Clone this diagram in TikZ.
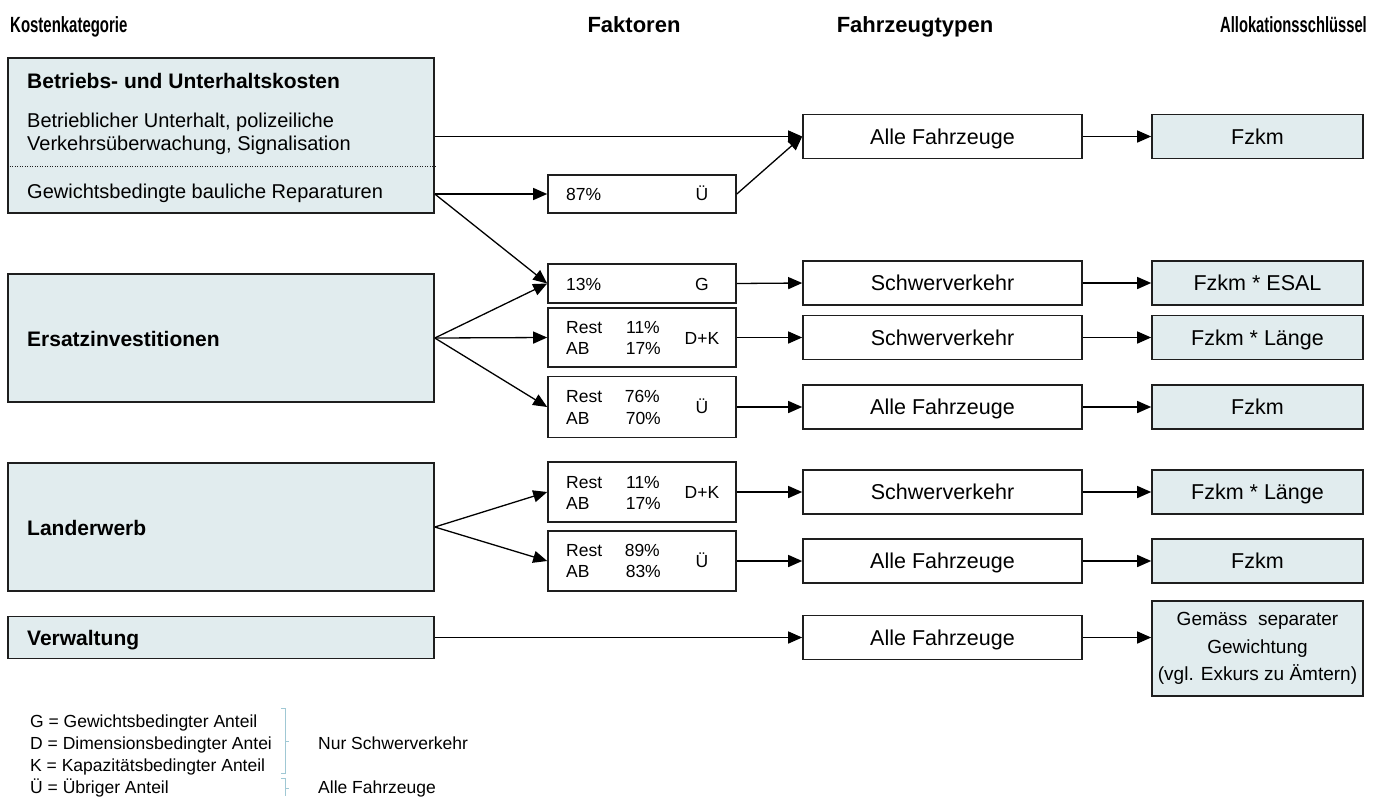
\documentclass[tikz,border=0pt]{standalone}
\usepackage{graphicx}
\usepackage{fontspec}
\setmainfont{Liberation Sans}
\usetikzlibrary{arrows.meta}
\definecolor{boxfill}{RGB}{225,236,238}
\definecolor{boxline}{RGB}{30,30,30}
\definecolor{brackcol}{RGB}{160,200,212}
\tikzset{
  catbox/.style={draw=boxline, line width=1.6pt, fill=boxfill, inner sep=0pt, minimum width=426pt},
  facbox/.style={draw=boxline, line width=1.6pt, fill=white, inner sep=0pt, minimum width=188pt},
  vehbox/.style={draw=boxline, line width=1.6pt, fill=white, inner sep=0pt, minimum width=279pt, minimum height=44pt,
     font=\fontsize{21.5}{25}\selectfont, text height=15.5pt, text depth=0pt},
  allocbox/.style={draw=boxline, line width=1.6pt, fill=boxfill, inner sep=0pt, minimum width=211pt, minimum height=44pt,
     font=\fontsize{21.5}{25}\selectfont, text height=15.5pt, text depth=0pt},
  hdrtext/.style={font=\fontsize{22}{26}\selectfont\bfseries, inner sep=0pt},
  cathead/.style={font=\fontsize{21}{25}\selectfont\bfseries, inner sep=0pt, anchor=base west},
  cattext/.style={font=\fontsize{20}{24}\selectfont, inner sep=0pt, anchor=base west},
  factext/.style={font=\fontsize{17.5}{21}\selectfont, inner sep=0pt},
  legtext/.style={font=\fontsize{17.5}{21}\selectfont, inner sep=0pt, anchor=base west},
  conn/.style={line width=1.3pt, draw=black, -{Triangle[length=14pt,width=12pt]}},
  brack/.style={draw=brackcol, line width=1pt},
}
\begin{document}
\begin{tikzpicture}[x=1pt,y=-1pt]
\useasboundingbox (0,0) rectangle (1379,796);

% headers
\node[hdrtext, anchor=base west] (h1) at (10,32) {\scalebox{0.68}[1]{Kostenkategorie}};
\node[hdrtext, anchor=base] (h2) at (634,32) {Faktoren};
\node[hdrtext, anchor=base] (h3) at (915,32) {Fahrzeugtypen};
\node[hdrtext, anchor=base east] (h4) at (1367,32) {\scalebox{0.67}[1]{Allokationsschlüssel}};

% cost category boxes
\node[catbox, minimum height=155pt] (b1) at (221,135.5) {};
\node[catbox, minimum height=128pt] (b2) at (221,338) {};
\node[catbox, minimum height=128pt] (b3) at (221,527) {};
\node[catbox, minimum height=42pt] (b4) at (221,637.5) {};

\draw[boxline, line width=1pt, dash pattern=on 1pt off 1.5pt] (b1.west |- 0,166) coordinate (dl) -- (dl -| b1.east);

\node[cathead] (t1) at (27,88) {Betriebs- und Unterhaltskosten};
\node[cattext] (t2) at (27,127) {Betrieblicher Unterhalt, polizeiliche};
\node[cattext] (t3) at (27,150) {Verkehrsüberwachung, Signalisation};
\node[cattext] (t4) at (27,198) {Gewichtsbedingte bauliche Reparaturen};
\node[cathead] (t5) at (27,346) {Ersatzinvestitionen};
\node[cathead] (t6) at (27,535) {Landerwerb};
\node[cathead] (t7) at (27,645) {Verwaltung};

% factor boxes
\node[facbox, minimum height=38pt] (f87) at (642,194) {};
\node[facbox, minimum height=39pt] (f13) at (642,283.5) {};
\node[facbox, minimum height=59pt] (fdk1) at (642,337.5) {};
\node[facbox, minimum height=61pt] (f76) at (642,407) {};
\node[facbox, minimum height=60pt] (fdk2) at (642,492) {};
\node[facbox, minimum height=60pt] (f89) at (642,561) {};

\node[factext, anchor=base west] (p87) at (566,200.5) {87\%};
\node[factext, anchor=base] (u87) at (702,200.5) {Ü};
\node[factext, anchor=base west] (p13) at (566,290) {13\%};
\node[factext, anchor=base] (g13) at (702,290) {G};

\node[factext, anchor=base west] (r1) at (566,333) {Rest};
\node[factext, anchor=base east] (r1p) at (660,333) {11\%};
\node[factext, anchor=base west] (a1t) at (566,354.5) {AB};
\node[factext, anchor=base east] (a1p) at (661,354.5) {17\%};
\node[factext, anchor=base] (dk1) at (702,344) {D+K};

\node[factext, anchor=base west] (r2) at (566,402.5) {Rest};
\node[factext, anchor=base east] (r2p) at (660,402.5) {76\%};
\node[factext, anchor=base west] (a2t) at (566,424) {AB};
\node[factext, anchor=base east] (a2p) at (661,424) {70\%};
\node[factext, anchor=base] (u76) at (702,413.5) {Ü};

\node[factext, anchor=base west] (r3) at (566,488) {Rest};
\node[factext, anchor=base east] (r3p) at (660,488) {11\%};
\node[factext, anchor=base west] (a3t) at (566,509.5) {AB};
\node[factext, anchor=base east] (a3p) at (661,509.5) {17\%};
\node[factext, anchor=base] (dk2) at (702,498.5) {D+K};

\node[factext, anchor=base west] (r4) at (566,556) {Rest};
\node[factext, anchor=base east] (r4p) at (660,556) {89\%};
\node[factext, anchor=base west] (a4t) at (566,577.5) {AB};
\node[factext, anchor=base east] (a4p) at (661,577.5) {83\%};
\node[factext, anchor=base] (u89) at (702,567.5) {Ü};

% vehicle type boxes
\node[vehbox] (v1) at (942.5,136.5) {Alle Fahrzeuge};
\node[vehbox] (v2) at (942.5,283) {Schwerverkehr};
\node[vehbox] (v3) at (942.5,337.5) {Schwerverkehr};
\node[vehbox] (v4) at (942.5,407) {Alle Fahrzeuge};
\node[vehbox] (v5) at (942.5,492) {Schwerverkehr};
\node[vehbox] (v6) at (942.5,561) {Alle Fahrzeuge};
\node[vehbox] (v7) at (942.5,637.5) {Alle Fahrzeuge};

% allocation boxes
\node[allocbox] (k1) at (1257.5,136.5) {Fzkm};
\node[allocbox] (k2) at (1257.5,283) {Fzkm * ESAL};
\node[allocbox] (k3) at (1257.5,337.5) {Fzkm * Länge};
\node[allocbox] (k4) at (1257.5,407) {Fzkm};
\node[allocbox] (k5) at (1257.5,492) {Fzkm * Länge};
\node[allocbox] (k6) at (1257.5,561) {Fzkm};
\node[draw=boxline, line width=1.6pt, fill=boxfill, inner sep=0pt, minimum width=211pt, minimum height=95pt,
      font=\fontsize{19}{27.5}\selectfont, align=center] (k7) at (1257.5,648.5)
      {Gemäss~ separater\\Gewichtung\\(vgl. Exkurs zu Ämtern)};

% connectors
\draw[conn] (b1.east |- v1.west) -- (v1.west);
\draw[conn] (b1.east |- f87.west) -- (f87.west);
\draw[conn] (b1.east |- f87.west) -- (f13.west);
\draw[conn] (f87.east) -- (v1.west);
\draw[conn] (b2.east) -- (f13.west);
\draw[conn] (b2.east) -- (fdk1.west);
\draw[conn] (b2.east) -- (f76.west);
\draw[conn] (b3.east) -- (fdk2.west);
\draw[conn] (b3.east) -- (f89.west);
\draw[conn] (b4.east) -- (v7.west);
\draw[conn] (f13.east) -- (v2.west);
\draw[conn] (fdk1.east) -- (v3.west);
\draw[conn] (f76.east) -- (v4.west);
\draw[conn] (fdk2.east) -- (v5.west);
\draw[conn] (f89.east) -- (v6.west);
\draw[conn] (v1.east) -- (k1.west);
\draw[conn] (v2.east) -- (k2.west);
\draw[conn] (v3.east) -- (k3.west);
\draw[conn] (v4.east) -- (k4.west);
\draw[conn] (v5.east) -- (k5.west);
\draw[conn] (v6.east) -- (k6.west);
\draw[conn] (v7.east) -- (v7.east -| k7.west);

% legend
\node[legtext] (l1) at (30,727.5) {G = Gewichtsbedingter Anteil};
\node[legtext] (l2) at (30,749) {D = Dimensionsbedingter Antei};
\node[legtext] (l3) at (30,771.5) {K = Kapazitätsbedingter Anteil};
\node[legtext] (l4) at (30,793) {Ü = Übriger Anteil};
\node[legtext] (l5) at (318,749) {Nur Schwerverkehr};
\node[legtext] (l6) at (318,793) {Alle Fahrzeuge};
\draw[brack] (281,708) -- (285,708) -- (285,773) -- (281,773);
\draw[brack] (285,741) -- (289,741);
\draw[brack] (281,778) -- (285,778) -- (285,796);
\draw[brack] (285,788) -- (289,788);
\end{tikzpicture}
\end{document}
